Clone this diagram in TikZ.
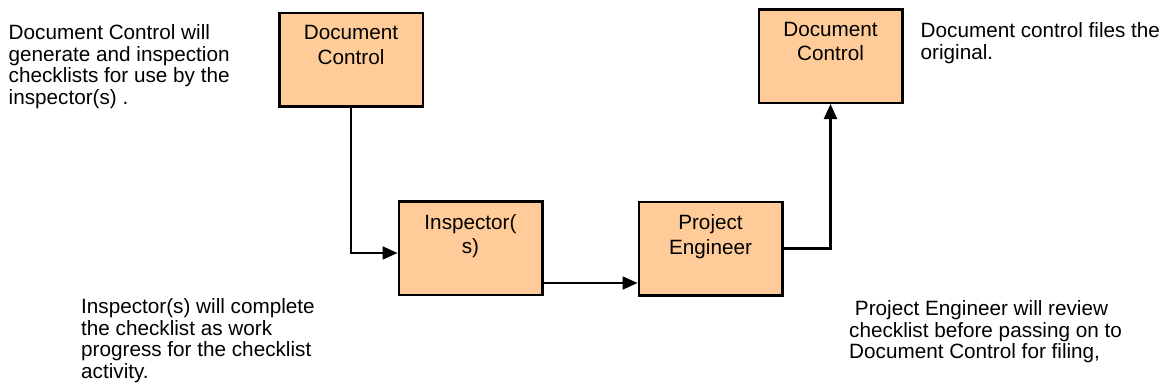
\documentclass[tikz,border=0pt]{standalone}
\usepackage{fontspec}
\setmainfont{Liberation Sans}
\usetikzlibrary{arrows.meta}
\definecolor{peach}{HTML}{FFCC99}
\tikzset{
  box/.style={draw=black, fill=peach, line width=2.5pt, minimum width=143.5pt, minimum height=93.5pt, inner sep=0pt},
  boxlabel/.style={anchor=north, inner sep=0pt, align=center, yshift=-14pt, font=\fontsize{20.7}{24.5}\selectfont},
  note/.style={anchor=north west, inner sep=0pt, align=left, font=\fontsize{20.7}{21.7}\selectfont},
  conn/.style={line width=2.2pt, -{Triangle[length=15pt,width=13pt]}}
}
\begin{document}
\begin{tikzpicture}[x=1pt,y=-1pt]
\useasboundingbox (0,0) rectangle (1172,391);
\node[box, label={[boxlabel]north:Document\\Control}] (dc1) at (351,59.5) {};
\node[box, label={[boxlabel]north:Inspector(\\s)}] (insp) at (470.5,248) {};
\node[box, label={[boxlabel]north:Project\\Engineer}] (pe) at (710.5,248.5) {};
\node[box, label={[boxlabel]north:Document\\Control}] (dc2) at (830.5,56) {};

\node[note] (t1) at (8.5,24.3) {Document Control will\\generate and inspection\\checklists for use by the\\inspector(s) .};
\node[note] (t2) at (81,298.3) {Inspector(s) will complete\\the checklist as work\\progress for the checklist\\activity.};
\node[note] (t3) at (849,300.3) {\hspace*{5.75pt}Project Engineer will review\\checklist before passing on to\\Document Control for filing,};
\node[note] (t4) at (920.5,22.3) {Document control files the\\original.};

\draw[conn] (dc1.south) |- ([yshift=-5pt]insp.west);
\draw[conn] ([yshift=-35pt]insp.east) -- ([yshift=-34.5pt]pe.west);
\draw[conn] (pe.east) -| (dc2.south);
\end{tikzpicture}
\end{document}
